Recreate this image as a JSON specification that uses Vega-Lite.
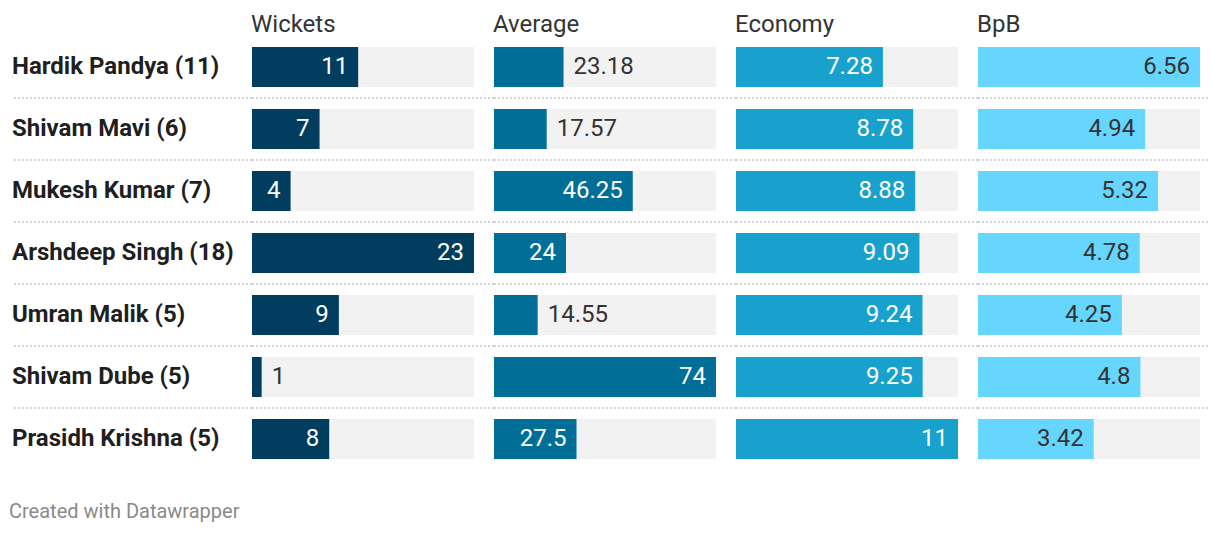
{
  "$schema": "https://vega.github.io/schema/vega-lite/v6.json",
  "background": "white",
  "padding": {"left": 9, "top": 13, "right": 0, "bottom": 10},
  "spacing": 0,
  "bounds": "flush",
  "config": {
    "view": {"stroke": null},
    "font": "Roboto",
    "title": {"anchor": "start", "fontSize": 24, "fontWeight": "normal", "color": "#333333", "font": "Roboto", "baseline": "alphabetic", "offset": -1}
  },
  "title": {"text": "Created with Datawrapper", "orient": "bottom", "anchor": "start", "fontSize": 20, "fontWeight": "normal", "color": "#8a8a8a", "font": "Roboto", "baseline": "alphabetic", "offset": 48, "dx": -2},
  "data": {"values": [
    {"player": "Hardik Pandya (11)", "Wickets": 11, "Average": 23.18, "Economy": 7.28, "BpB": 6.56},
    {"player": "Shivam Mavi (6)", "Wickets": 7, "Average": 17.57, "Economy": 8.78, "BpB": 4.94},
    {"player": "Mukesh Kumar (7)", "Wickets": 4, "Average": 46.25, "Economy": 8.88, "BpB": 5.32},
    {"player": "Arshdeep Singh (18)", "Wickets": 23, "Average": 24, "Economy": 9.09, "BpB": 4.78},
    {"player": "Umran Malik (5)", "Wickets": 9, "Average": 14.55, "Economy": 9.24, "BpB": 4.25},
    {"player": "Shivam Dube (5)", "Wickets": 1, "Average": 74, "Economy": 9.25, "BpB": 4.8},
    {"player": "Prasidh Krishna (5)", "Wickets": 8, "Average": 27.5, "Economy": 11, "BpB": 3.42}
  ]},
  "hconcat": [
    {
      "width": 240, "height": 434,
      "encoding": {"y": {"field": "player", "type": "nominal", "sort": null, "axis": null, "scale": {"paddingInner": 0.3548, "paddingOuter": 0.1774}}},
      "layer": [
        {"mark": {"type": "text", "align": "left", "baseline": "middle", "fontSize": 24, "fontWeight": "bold", "color": "#1f1f1f"},
         "encoding": {"x": {"value": 0}, "text": {"field": "player", "type": "nominal"}}},
        {"mark": {"type": "rule", "strokeDash": [2, 2], "strokeWidth": 2, "color": "#d4d4d4"},
         "encoding": {"y": {"field": "player", "type": "nominal", "sort": null, "bandPosition": 1.275},
                      "opacity": {"condition": {"test": "datum.player === 'Prasidh Krishna (5)'", "value": 0}, "value": 1}}}
      ]
    },
    {
      "width": 242, "height": 434,
      "title": {"text": "Wickets"},
      "transform": [
        {"joinaggregate": [{"op": "max", "field": "Wickets", "as": "mx"}]},
        {"calculate": "datum.Wickets / datum.mx * 222 > length(toString(datum.Wickets)) * 13.5 + 20", "as": "inside"}
      ],
      "encoding": {"y": {"field": "player", "type": "nominal", "sort": null, "axis": null, "scale": {"paddingInner": 0.3548, "paddingOuter": 0.1774}}},
      "layer": [
        {"mark": {"type": "bar", "color": "#f2f2f2"},
         "encoding": {"x": {"field": "mx", "type": "quantitative", "axis": null, "scale": {"range": [0, 222], "nice": false, "zero": true}}}},
        {"mark": {"type": "bar", "color": "#003d5e"},
         "encoding": {"x": {"field": "Wickets", "type": "quantitative"}}},
        {"mark": {"type": "text", "align": "right", "baseline": "middle", "dx": -10, "fontSize": 24, "color": "#ffffff"},
         "encoding": {"x": {"field": "Wickets", "type": "quantitative"},
                      "text": {"condition": {"test": "datum.inside", "field": "Wickets", "type": "nominal"}, "value": ""}}},
        {"mark": {"type": "text", "align": "left", "baseline": "middle", "dx": 10, "fontSize": 24, "color": "#333333"},
         "encoding": {"x": {"field": "Wickets", "type": "quantitative"},
                      "text": {"condition": {"test": "!datum.inside", "field": "Wickets", "type": "nominal"}, "value": ""}}},
        {"mark": {"type": "rule", "strokeDash": [2, 2], "strokeWidth": 2, "color": "#d4d4d4"},
         "encoding": {"y": {"field": "player", "type": "nominal", "sort": null, "bandPosition": 1.275},
                      "opacity": {"condition": {"test": "datum.player === 'Prasidh Krishna (5)'", "value": 0}, "value": 1}}}
      ]
    },
    {
      "width": 242, "height": 434,
      "title": {"text": "Average"},
      "transform": [
        {"joinaggregate": [{"op": "max", "field": "Average", "as": "mx"}]},
        {"calculate": "datum.Average / datum.mx * 222 > length(toString(datum.Average)) * 13.5 + 20", "as": "inside"}
      ],
      "encoding": {"y": {"field": "player", "type": "nominal", "sort": null, "axis": null, "scale": {"paddingInner": 0.3548, "paddingOuter": 0.1774}}},
      "layer": [
        {"mark": {"type": "bar", "color": "#f2f2f2"},
         "encoding": {"x": {"field": "mx", "type": "quantitative", "axis": null, "scale": {"range": [0, 222], "nice": false, "zero": true}}}},
        {"mark": {"type": "bar", "color": "#006e97"},
         "encoding": {"x": {"field": "Average", "type": "quantitative"}}},
        {"mark": {"type": "text", "align": "right", "baseline": "middle", "dx": -10, "fontSize": 24, "color": "#ffffff"},
         "encoding": {"x": {"field": "Average", "type": "quantitative"},
                      "text": {"condition": {"test": "datum.inside", "field": "Average", "type": "nominal"}, "value": ""}}},
        {"mark": {"type": "text", "align": "left", "baseline": "middle", "dx": 10, "fontSize": 24, "color": "#333333"},
         "encoding": {"x": {"field": "Average", "type": "quantitative"},
                      "text": {"condition": {"test": "!datum.inside", "field": "Average", "type": "nominal"}, "value": ""}}},
        {"mark": {"type": "rule", "strokeDash": [2, 2], "strokeWidth": 2, "color": "#d4d4d4"},
         "encoding": {"y": {"field": "player", "type": "nominal", "sort": null, "bandPosition": 1.275},
                      "opacity": {"condition": {"test": "datum.player === 'Prasidh Krishna (5)'", "value": 0}, "value": 1}}}
      ]
    },
    {
      "width": 242, "height": 434,
      "title": {"text": "Economy"},
      "transform": [
        {"joinaggregate": [{"op": "max", "field": "Economy", "as": "mx"}]},
        {"calculate": "datum.Economy / datum.mx * 222 > length(toString(datum.Economy)) * 13.5 + 20", "as": "inside"}
      ],
      "encoding": {"y": {"field": "player", "type": "nominal", "sort": null, "axis": null, "scale": {"paddingInner": 0.3548, "paddingOuter": 0.1774}}},
      "layer": [
        {"mark": {"type": "bar", "color": "#f2f2f2"},
         "encoding": {"x": {"field": "mx", "type": "quantitative", "axis": null, "scale": {"range": [0, 222], "nice": false, "zero": true}}}},
        {"mark": {"type": "bar", "color": "#19a1cd"},
         "encoding": {"x": {"field": "Economy", "type": "quantitative"}}},
        {"mark": {"type": "text", "align": "right", "baseline": "middle", "dx": -10, "fontSize": 24, "color": "#ffffff"},
         "encoding": {"x": {"field": "Economy", "type": "quantitative"},
                      "text": {"condition": {"test": "datum.inside", "field": "Economy", "type": "nominal"}, "value": ""}}},
        {"mark": {"type": "text", "align": "left", "baseline": "middle", "dx": 10, "fontSize": 24, "color": "#333333"},
         "encoding": {"x": {"field": "Economy", "type": "quantitative"},
                      "text": {"condition": {"test": "!datum.inside", "field": "Economy", "type": "nominal"}, "value": ""}}},
        {"mark": {"type": "rule", "strokeDash": [2, 2], "strokeWidth": 2, "color": "#d4d4d4"},
         "encoding": {"y": {"field": "player", "type": "nominal", "sort": null, "bandPosition": 1.275},
                      "opacity": {"condition": {"test": "datum.player === 'Prasidh Krishna (5)'", "value": 0}, "value": 1}}}
      ]
    },
    {
      "width": 230, "height": 434,
      "title": {"text": "BpB"},
      "transform": [
        {"joinaggregate": [{"op": "max", "field": "BpB", "as": "mx"}]},
        {"calculate": "datum.BpB / datum.mx * 222 > length(toString(datum.BpB)) * 13.5 + 20", "as": "inside"}
      ],
      "encoding": {"y": {"field": "player", "type": "nominal", "sort": null, "axis": null, "scale": {"paddingInner": 0.3548, "paddingOuter": 0.1774}}},
      "layer": [
        {"mark": {"type": "bar", "color": "#f2f2f2"},
         "encoding": {"x": {"field": "mx", "type": "quantitative", "axis": null, "scale": {"range": [0, 222], "nice": false, "zero": true}}}},
        {"mark": {"type": "bar", "color": "#67d6fe"},
         "encoding": {"x": {"field": "BpB", "type": "quantitative"}}},
        {"mark": {"type": "text", "align": "right", "baseline": "middle", "dx": -10, "fontSize": 24, "color": "#333333"},
         "encoding": {"x": {"field": "BpB", "type": "quantitative"},
                      "text": {"condition": {"test": "datum.inside", "field": "BpB", "type": "nominal"}, "value": ""}}},
        {"mark": {"type": "text", "align": "left", "baseline": "middle", "dx": 10, "fontSize": 24, "color": "#333333"},
         "encoding": {"x": {"field": "BpB", "type": "quantitative"},
                      "text": {"condition": {"test": "!datum.inside", "field": "BpB", "type": "nominal"}, "value": ""}}},
        {"mark": {"type": "rule", "strokeDash": [2, 2], "strokeWidth": 2, "color": "#d4d4d4"},
         "encoding": {"y": {"field": "player", "type": "nominal", "sort": null, "bandPosition": 1.275},
                      "opacity": {"condition": {"test": "datum.player === 'Prasidh Krishna (5)'", "value": 0}, "value": 1}}}
      ]
    }
  ]
}
